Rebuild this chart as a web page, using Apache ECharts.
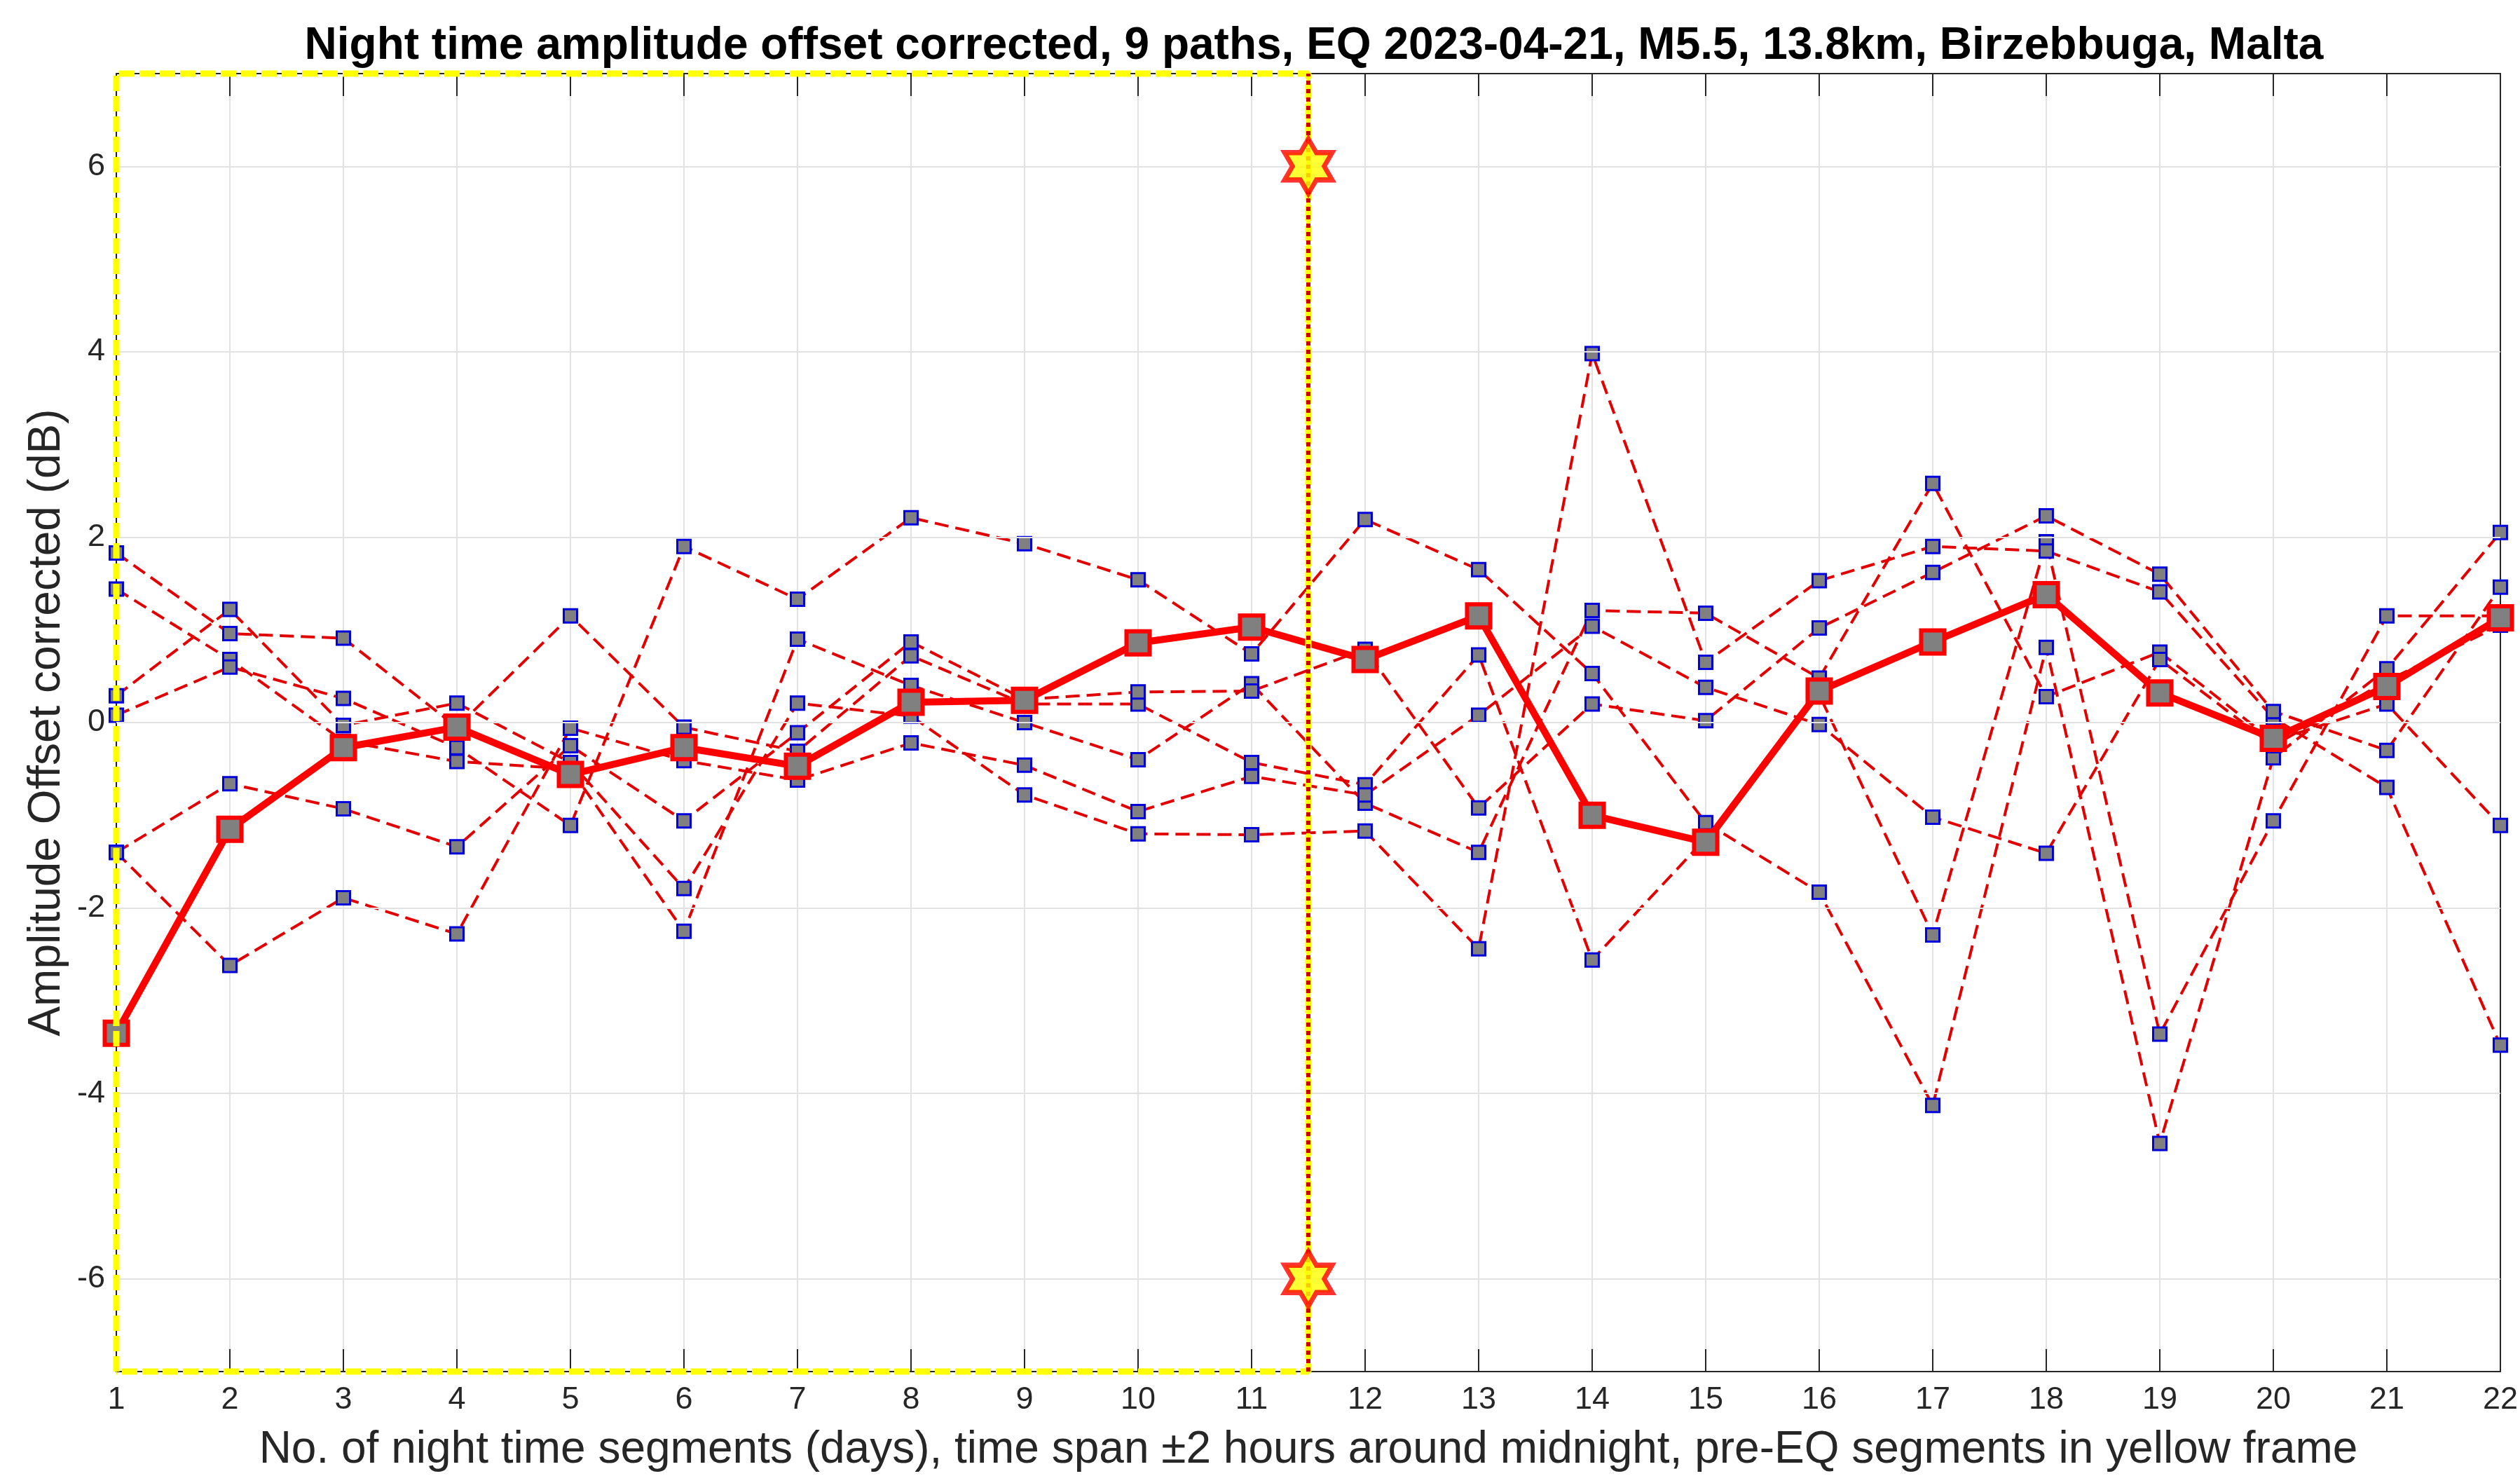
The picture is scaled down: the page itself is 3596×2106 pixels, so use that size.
<!DOCTYPE html>
<html>
<head>
<meta charset="utf-8">
<title>Night time amplitude offset</title>
<script src="https://cdn.jsdelivr.net/npm/echarts@6/dist/echarts.min.js"></script>
<style>
  html, body { margin: 0; padding: 0; background: #fff; }
  #chart { width: 3596px; height: 2106px; }
</style>
</head>
<body>
<div id="chart"></div>
<script>
// night time segments (days)
const days = [1, 2, 3, 4, 5, 6, 7, 8, 9, 10, 11, 12, 13, 14, 15, 16, 17, 18, 19, 20, 21, 22];

// offset corrected amplitude per path (dB)
const path1 = [1.83, 0.96, 0.91, -0.05, 1.15, -0.05, -0.31, 0.72, 0.20, 0.20, -0.43, -0.67, 0.73, -2.56, -1.25, 0.30, -2.29, 1.95, -3.36, -1.06, 1.15, 1.15];
const path2 = [1.44, 0.68, -0.20, -0.42, -0.50, -2.25, 0.90, 0.40, 0.00, -0.40, 0.42, -0.87, -1.40, 1.21, 1.18, 0.48, 2.58, 0.28, 0.76, -0.20, 0.20, -1.11];
const path3 = [0.29, 1.22, -0.03, 0.21, -0.43, -1.79, 0.21, 0.07, -0.78, -1.20, -1.21, -1.17, -2.44, 3.98, 0.65, 1.53, 1.90, 1.85, 1.41, 0.05, -0.70, -3.48];
const path4 = [0.08, 0.60, 0.26, -0.27, -1.11, 1.90, 1.33, 2.21, 1.93, 1.54, 0.74, 2.19, 1.65, 0.53, -1.08, -1.83, -4.13, 0.81, -4.54, -0.38, 0.58, 2.05];
const path5 = [-1.40, -0.66, -0.93, -1.34, -0.25, -1.06, -0.11, 0.87, 0.25, 0.33, 0.34, 0.79, -0.92, 0.20, 0.02, 1.02, 1.62, 2.23, 1.60, 0.12, -0.30, 1.46];
const path6 = [-1.40, -2.62, -1.89, -2.28, -0.06, -0.41, -0.62, -0.22, -0.46, -0.96, -0.58, -0.78, 0.08, 1.04, 0.38, -0.02, -1.02, -1.41, 0.68, -0.25, 0.45, 1.05];

// thick red line
const meanOffset = [-3.35, -1.15, -0.27, -0.05, -0.56, -0.27, -0.47, 0.22, 0.24, 0.86, 1.03, 0.68, 1.15, -1.00, -1.29, 0.34, 0.87, 1.38, 0.32, -0.17, 0.39, 1.13];

const yTicks = [-6, -4, -2, 0, 2, 4, 6];
const yMin = -7;
const yMax = 7;
const xMin = 1;
const xMax = 22;
const eqDay = 11.5;        // EQ between segment 11 and 12
const starLevels = [6, -6];

const titleText = "Night time amplitude offset corrected, 9 paths, EQ 2023-04-21, M5.5, 13.8km, Birzebbuga, Malta";
const xName = "No. of night time segments (days), time span \u00b12 hours around midnight, pre-EQ segments in yellow frame";
const yName = "Amplitude Offset corrected (dB)";

const font = "Liberation Sans, Arial, Helvetica, sans-serif";
const axisColor = "#262626";
const gridColor = "#e2e2e2";

// six pointed star
const hexagram = "path://M0,-10L2.887,-5L8.66,-5L5.774,0L8.66,5L2.887,5L0,10L-2.887,5L-8.66,5L-5.774,0L-8.66,-5L-2.887,-5Z";

const chart = echarts.init(document.getElementById("chart"), null, { renderer: "canvas" });

const paths = [path1, path2, path3, path4, path5, path6];

const pathSeries = paths.map((p, k) => ({
  name: "path" + (k + 1),
  type: "line",
  data: days.map((d, i) => [d, p[i]]),
  z: 3,
  clip: false,
  symbol: "rect",
  symbolSize: 19,
  lineStyle: { color: "#e30000", width: 4, type: [20, 10] },
  itemStyle: { color: "#808080", borderColor: "#0000dd", borderWidth: 3 },
  emphasis: { disabled: true },
}));

const options = {
  backgroundColor: "#ffffff",
  animation: false,
  title: {
    text: titleText,
    left: 1870,
    top: 29,
    textAlign: "center",
    textStyle: { fontFamily: font, fontWeight: "bold", fontSize: 64, color: "#000" },
  },
  grid: { left: 166, right: 22, top: 105, bottom: 144 },
  xAxis: [
    {
      type: "value",
      min: xMin,
      max: xMax,
      interval: 1,
      position: "bottom",
      name: xName,
      nameLocation: "middle",
      nameGap: 80,
      nameTextStyle: { fontFamily: font, fontSize: 64, color: axisColor },
      axisLine: { show: true, onZero: false, lineStyle: { color: axisColor, width: 2 } },
      axisTick: { show: true, inside: true, length: 32, lineStyle: { color: axisColor, width: 2 } },
      axisLabel: { fontFamily: font, fontSize: 45, color: axisColor, margin: 18 },
      splitLine: { show: true, lineStyle: { color: gridColor, width: 2 } },
    },
    {
      type: "value",
      min: xMin,
      max: xMax,
      interval: 1,
      position: "top",
      axisLine: { show: true, onZero: false, lineStyle: { color: axisColor, width: 2 } },
      axisTick: { show: true, inside: true, length: 32, lineStyle: { color: axisColor, width: 2 } },
      axisLabel: { show: false },
      splitLine: { show: false },
    },
  ],
  yAxis: [
    {
      type: "value",
      min: yMin,
      max: yMax,
      interval: 1,
      position: "left",
      name: yName,
      nameLocation: "middle",
      nameGap: 56,
      nameTextStyle: { fontFamily: font, fontSize: 64, color: axisColor },
      axisLine: { show: true, onZero: false, lineStyle: { color: axisColor, width: 2 } },
      axisTick: { show: true, inside: true, length: 32, customValues: yTicks, lineStyle: { color: axisColor, width: 2 } },
      axisLabel: {
        fontFamily: font, fontSize: 45, color: axisColor, margin: 16,
        customValues: yTicks,
        formatter: (v) => (v % 2 === 0 ? String(v) : ""),
      },
      splitLine: { show: false },
    },
    {
      type: "value",
      min: yMin,
      max: yMax,
      interval: 1,
      position: "right",
      axisLine: { show: true, onZero: false, lineStyle: { color: axisColor, width: 2 } },
      axisTick: { show: true, inside: true, length: 32, customValues: yTicks, lineStyle: { color: axisColor, width: 2 } },
      axisLabel: { show: false },
      splitLine: { show: false },
    },
  ],
  series: [
    // horizontal grid lines at the labelled ticks
    {
      name: "ygrid",
      type: "line",
      data: [],
      z: 1,
      silent: true,
      markLine: {
        silent: true,
        symbol: "none",
        label: { show: false },
        lineStyle: { color: gridColor, width: 2, type: "solid" },
        data: yTicks.map((v) => ({ yAxis: v })),
      },
    },
    ...pathSeries,
    {
      name: "mean",
      type: "line",
      data: days.map((d, i) => [d, meanOffset[i]]),
      z: 5,
      clip: false,
      symbol: "rect",
      symbolSize: 33,
      lineStyle: { color: "#ff0000", width: 10 },
      itemStyle: { color: "#808080", borderColor: "#ff0000", borderWidth: 6 },
      emphasis: { disabled: true },
    },
    // pre-EQ yellow frame
    {
      name: "frame",
      type: "line",
      data: [[xMin, yMin], [xMin, yMax], [eqDay, yMax], [eqDay, yMin], [xMin, yMin]],
      z: 6,
      clip: false,
      symbol: "none",
      silent: true,
      lineStyle: { color: "#ffff00", width: 9, type: [22, 7] },
    },
    // EQ marker line
    {
      name: "eqLine",
      type: "line",
      data: [[eqDay, yMin], [eqDay, yMax]],
      z: 7,
      clip: false,
      symbol: "none",
      silent: true,
      lineStyle: { color: "#ffff00", width: 6 },
    },
    {
      name: "eqLineDots",
      type: "line",
      data: [[eqDay, yMin], [eqDay, yMax]],
      z: 8,
      clip: false,
      symbol: "none",
      silent: true,
      lineStyle: { color: "#cc0000", width: 6, type: [6, 6] },
    },
    {
      name: "stars",
      type: "scatter",
      data: starLevels.map((v) => [eqDay, v]),
      z: 9,
      symbol: hexagram,
      symbolSize: [68, 78],
      itemStyle: { color: "#ffff00", borderColor: "#ff0000", borderWidth: 7 },
      emphasis: { disabled: true },
    },
  ],
};

chart.setOption(options);
</script>
</body>
</html>
